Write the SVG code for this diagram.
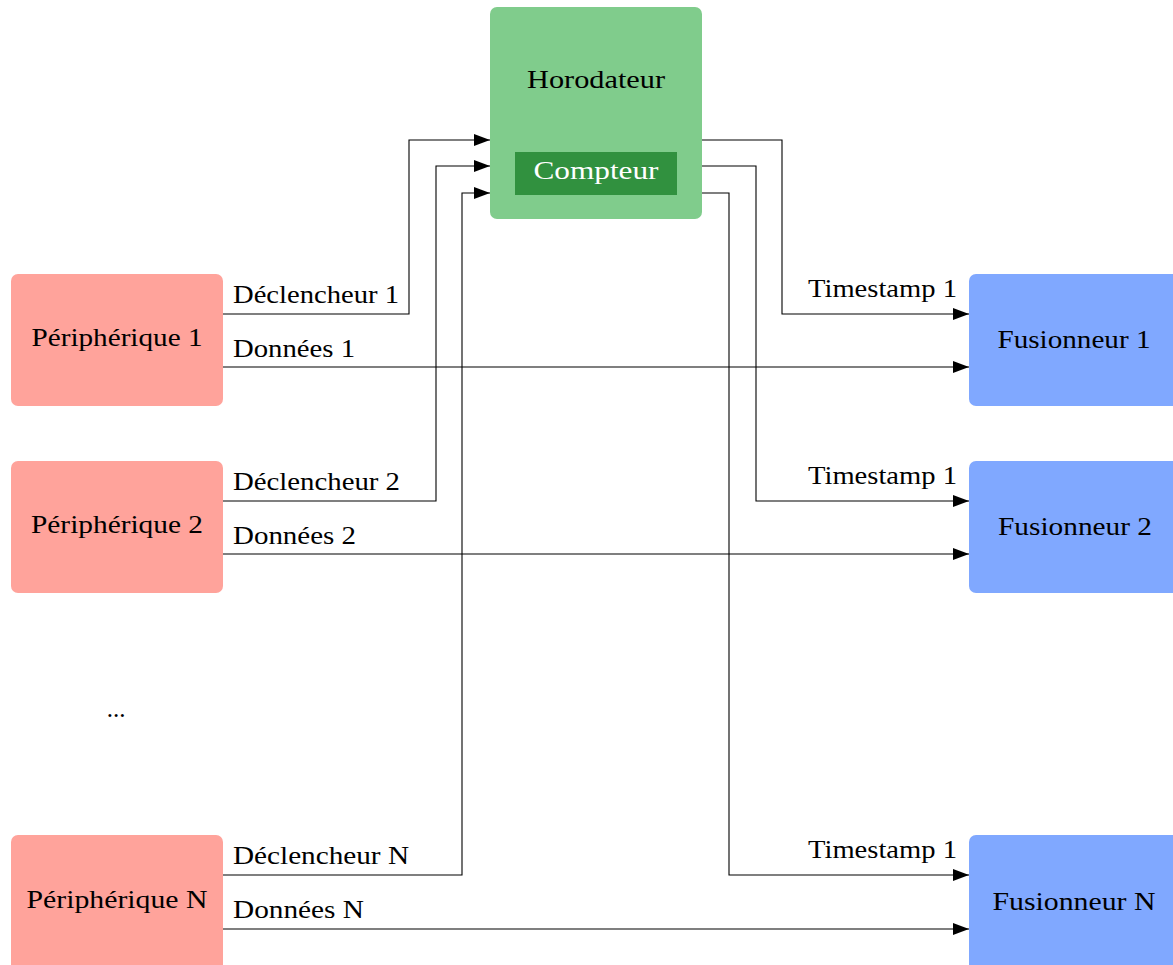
<svg xmlns="http://www.w3.org/2000/svg" width="1173" height="965" viewBox="0 0 1173 965">
  <style>
    .lbl { font-family: "Liberation Serif", "DejaVu Serif", serif; font-size: 25px; fill: #000; }
    .mid { text-anchor: middle; }
    .end { text-anchor: end; }
    .periph { fill: #FFA39B; }
    .fus { fill: #80A8FF; }
    .wire { fill: none; stroke: #000; stroke-width: 1.1; marker-end: url(#arr); }
  </style>
  <defs>
    <marker id="arr" viewBox="0 0 16 12" refX="16" refY="6" markerWidth="16" markerHeight="12" markerUnits="userSpaceOnUse" orient="auto">
      <path d="M0,0 L16,6 L0,12 Z" fill="#000"/>
    </marker>
  </defs>
  <rect width="1173" height="965" fill="#fff"/>

  <g id="horodateur">
    <rect x="490" y="7" width="212" height="212" rx="7" fill="#80CC8C"/>
    <text class="lbl mid" x="596" y="88" textLength="138" lengthAdjust="spacingAndGlyphs">Horodateur</text>
  </g>
  <g id="compteur">
    <rect x="515" y="152" width="162" height="43" fill="#31913F"/>
    <text class="lbl mid" x="596" y="179" style="fill:#fff" textLength="125" lengthAdjust="spacingAndGlyphs">Compteur</text>
  </g>

  <g id="peripherique1">
    <rect class="periph" x="11" y="274" width="212" height="132" rx="7"/>
    <text class="lbl mid" x="117" y="346" textLength="171" lengthAdjust="spacingAndGlyphs">Périphérique 1</text>
  </g>
  <g id="peripherique2">
    <rect class="periph" x="11" y="461" width="212" height="132" rx="7"/>
    <text class="lbl mid" x="117" y="533" textLength="172" lengthAdjust="spacingAndGlyphs">Périphérique 2</text>
  </g>
  <g id="ellipsis">
    <text class="lbl mid" x="116" y="717">...</text>
  </g>
  <g id="peripheriqueN">
    <rect class="periph" x="11" y="835" width="212" height="140" rx="7"/>
    <text class="lbl mid" x="117" y="908" textLength="181" lengthAdjust="spacingAndGlyphs">Périphérique N</text>
  </g>

  <g id="fusionneur1">
    <rect class="fus" x="969" y="274" width="214" height="132" rx="7"/>
    <text class="lbl mid" x="1074" y="348" textLength="153" lengthAdjust="spacingAndGlyphs">Fusionneur 1</text>
  </g>
  <g id="fusionneur2">
    <rect class="fus" x="969" y="461" width="214" height="132" rx="7"/>
    <text class="lbl mid" x="1075" y="535" textLength="154" lengthAdjust="spacingAndGlyphs">Fusionneur 2</text>
  </g>
  <g id="fusionneurN">
    <rect class="fus" x="969" y="835" width="214" height="140" rx="7"/>
    <text class="lbl mid" x="1074" y="910" textLength="163" lengthAdjust="spacingAndGlyphs">Fusionneur N</text>
  </g>

  <g id="connectors">
    <!-- triggers into the timestamper -->
    <path class="wire" d="M223,314 H409 V140 H490"/>
    <path class="wire" d="M223,501 H436 V166 H490"/>
    <path class="wire" d="M223,875 H462 V193 H490"/>
    <!-- timestamps out to the mergers -->
    <path class="wire" d="M702,140 H782 V314 H969"/>
    <path class="wire" d="M702,166 H756 V501 H969"/>
    <path class="wire" d="M702,193 H729 V875 H969"/>
    <!-- data paths -->
    <path class="wire" d="M223,367 H969"/>
    <path class="wire" d="M223,554 H969"/>
    <path class="wire" d="M223,929 H969"/>

    <text class="lbl" x="233" y="303" textLength="166" lengthAdjust="spacingAndGlyphs">Déclencheur 1</text>
    <text class="lbl" x="233" y="357" textLength="122" lengthAdjust="spacingAndGlyphs">Données 1</text>
    <text class="lbl" x="233" y="490" textLength="167" lengthAdjust="spacingAndGlyphs">Déclencheur 2</text>
    <text class="lbl" x="233" y="544" textLength="123" lengthAdjust="spacingAndGlyphs">Données 2</text>
    <text class="lbl" x="233" y="864" textLength="176" lengthAdjust="spacingAndGlyphs">Déclencheur N</text>
    <text class="lbl" x="233" y="918" textLength="131" lengthAdjust="spacingAndGlyphs">Données N</text>
    <text class="lbl end" x="957" y="297" textLength="149" lengthAdjust="spacingAndGlyphs">Timestamp 1</text>
    <text class="lbl end" x="957" y="484" textLength="149" lengthAdjust="spacingAndGlyphs">Timestamp 1</text>
    <text class="lbl end" x="957" y="858" textLength="149" lengthAdjust="spacingAndGlyphs">Timestamp 1</text>
  </g>
</svg>
